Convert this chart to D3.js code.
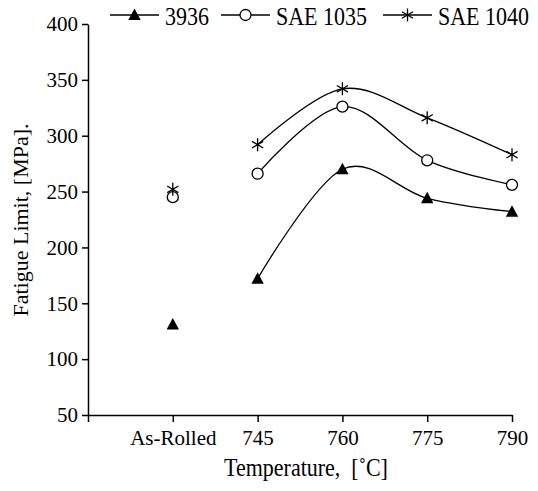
<!DOCTYPE html>
<html><head><meta charset="utf-8">
<script src="https://cdn.jsdelivr.net/npm/d3@7/dist/d3.min.js"></script>
<style>
body{margin:0;background:#fff;}
text{font-family:"Liberation Serif","Times New Roman",serif;fill:#000;}
</style></head>
<body><svg id="c" width="538" height="491"></svg>
<script>
const categories = ["", "As-Rolled", "745", "760", "775", "790"];
const yTicks = [50, 100, 150, 200, 250, 300, 350, 400];
const series = [
  {name: "3936", marker: "triangle", asRolled: 131, temps: ["745","760","775","790"], values: [172, 270, 244, 232]},
  {name: "SAE 1035", marker: "circle", asRolled: 245, temps: ["745","760","775","790"], values: [266, 326, 278, 256]},
  {name: "SAE 1040", marker: "star", asRolled: 252, temps: ["745","760","775","790"], values: [292, 342, 316, 283]}
];

const svg = d3.select("#c");
const x = d3.scalePoint().domain(categories).range([88, 512]);
const y = d3.scaleLinear().domain([50, 400]).range([415, 24]);

function drawMarker(g, type, cx, cy) {
  if (type === "triangle") {
    g.append("path").attr("d", `M${cx},${cy-6.5}L${cx+6.2},${cy+5}L${cx-6.2},${cy+5}Z`).attr("fill", "#000");
  } else if (type === "circle") {
    g.append("circle").attr("cx", cx).attr("cy", cy).attr("r", 5.5).attr("fill", "#fff").attr("stroke", "#000").attr("stroke-width", 1.3);
  } else {
    const a = 6.5, d = 5.6, h = 3.3;
    g.append("path").attr("d", `M${cx},${cy-a}L${cx},${cy+a}M${cx-d},${cy-h}L${cx+d},${cy+h}M${cx-d},${cy+h}L${cx+d},${cy-h}`)
      .attr("stroke", "#000").attr("stroke-width", 1.3).attr("fill", "none");
  }
}

// axes
const yAxis = d3.axisLeft(y).tickValues(yTicks).tickSize(6).tickSizeOuter(0).tickPadding(4);
const gy = svg.append("g").attr("transform", "translate(88,0)").call(yAxis);
const xAxis = d3.axisBottom(x).tickSize(7).tickSizeOuter(0).tickPadding(8);
const gx = svg.append("g").attr("transform", "translate(0,415)").call(xAxis);
[gx, gy].forEach(g => {
  g.attr("font-family", null);
  g.selectAll("path,line").attr("stroke", "#000").attr("stroke-width", 1.5);
  g.selectAll("text").attr("font-size", 21);
});
gx.selectAll("text").attr("dy", "0.71em");

// lines
const line = d3.line().x(d => x(d[0])).y(d => y(d[1])).curve(d3.curveCardinal.tension(0));
series.forEach(s => {
  const pts = s.temps.map((t, i) => [t, s.values[i]]);
  svg.append("path").datum(pts).attr("d", line).attr("fill", "none").attr("stroke", "#000").attr("stroke-width", 1.3);
});
series.forEach(s => {
  const g = svg.append("g");
  drawMarker(g, s.marker, x("As-Rolled"), y(s.asRolled));
  s.temps.forEach((t, i) => drawMarker(g, s.marker, x(t), y(s.values[i])));
});

// legend
const legX = [110, 221, 383];
series.forEach((s, i) => {
  const g = svg.append("g");
  const x0 = legX[i];
  g.append("line").attr("x1", x0).attr("x2", x0 + 49).attr("y1", 15).attr("y2", 15).attr("stroke", "#000").attr("stroke-width", 1.3);
  drawMarker(g, s.marker, x0 + 24.5, 15);
  g.append("text").attr("transform", `translate(${x0 + 55},25) scale(1,1.15)`).attr("font-size", 22).text(s.name);
});

// titles
svg.append("text").attr("transform", "translate(306,476) scale(1,1.1)").attr("text-anchor", "middle").attr("font-size", 22).text("Temperature,  [˚C]").style("white-space", "pre");
svg.append("text").attr("transform", "translate(28,220) rotate(-90)").attr("text-anchor", "middle").attr("font-size", 22).text("Fatigue Limit, [MPa].");
</script></body></html>
